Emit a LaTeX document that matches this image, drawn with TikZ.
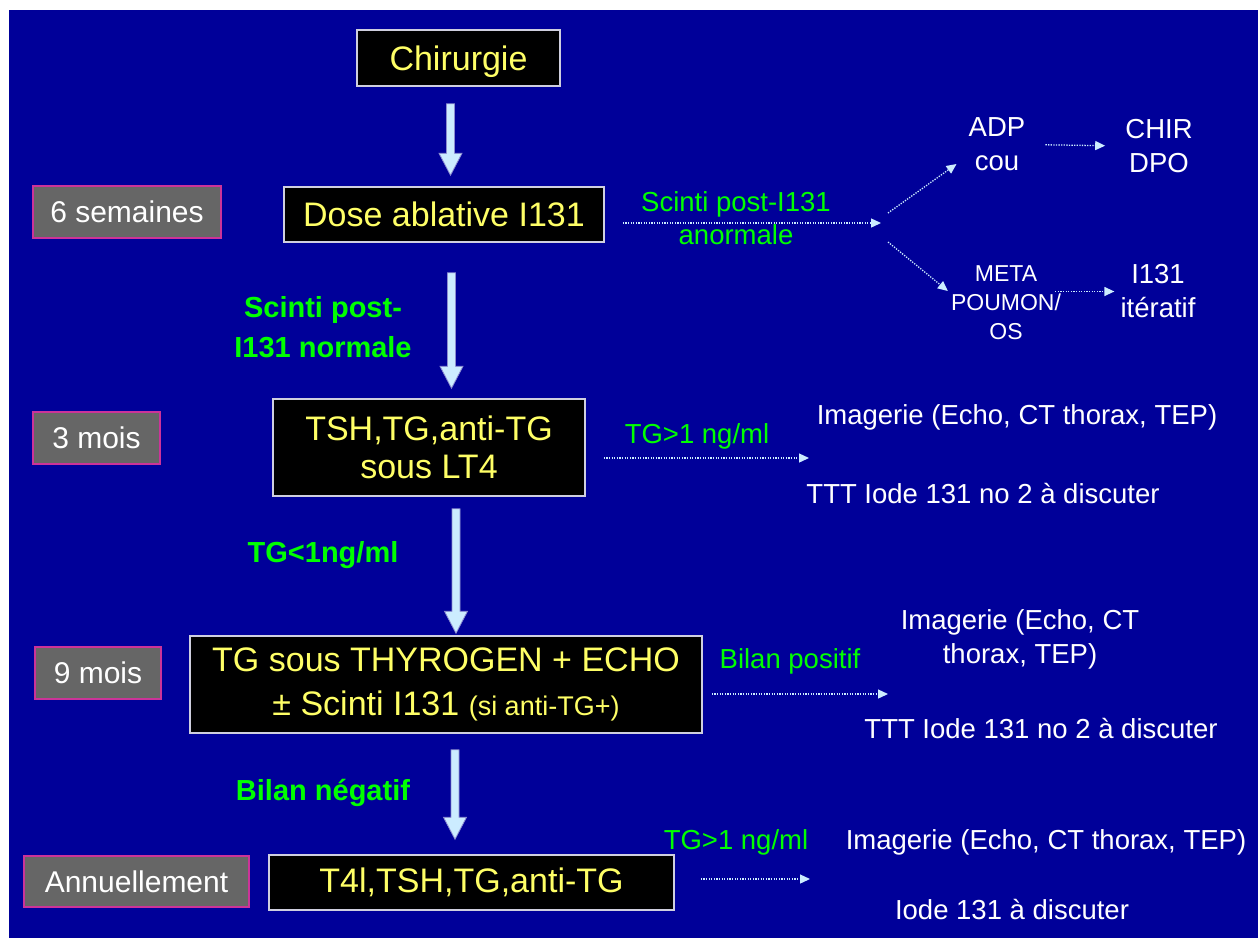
\documentclass[tikz,border=0pt]{standalone}
\usepackage{fontspec}
\setmainfont{Liberation Sans}
\usetikzlibrary{arrows.meta,calc}
\definecolor{bgblue}{HTML}{000099}
\definecolor{boxline}{HTML}{CFCFDF}
\definecolor{txtyellow}{HTML}{FFFF66}
\definecolor{timegray}{HTML}{666666}
\definecolor{timeline}{HTML}{CC3399}
\definecolor{labgreen}{HTML}{00FF00}
\definecolor{arrowfill}{HTML}{CCECFF}
\definecolor{arrowline}{HTML}{8C8CD0}
\tikzset{
  mainbox/.style={draw=boxline, line width=1.5pt, fill=black, text=txtyellow,
    font=\fontsize{34}{38}\selectfont, align=center, inner sep=0pt},
  timebox/.style={draw=timeline, line width=1.5pt, fill=timegray, text=white,
    font=\fontsize{30}{34}\selectfont, inner sep=0pt},
  greenbold/.style={text=labgreen, font=\bfseries\fontsize{29}{40}\selectfont, align=center, inner sep=0pt},
  greenlab/.style={text=labgreen, font=\fontsize{27.5}{33}\selectfont, align=center, inner sep=0pt},
  whitetxt/.style={text=white, font=\fontsize{27.5}{34}\selectfont, align=center, inner sep=0pt},
  smalltxt/.style={text=white, font=\fontsize{23}{29}\selectfont, align=center, inner sep=0pt},
  dotarrow/.style={draw=arrowfill, line width=1.3pt, dash pattern=on 1.3pt off 1.3pt,
    -{Triangle[length=10pt,width=9pt]}},
  bigarrow/.style 2 args={fill=arrowfill, draw=arrowline, line width=0.8pt,
    to path={let \p1=(\tikztostart), \p2=(\tikztotarget) in
      (\x1-4pt,\y1-#1) -- (\x1+4pt,\y1-#1) -- (\x1+4pt,\y2+#2+22pt)
      -- (\x1+11.5pt,\y2+#2+22pt) -- (\x1,\y2+#2) -- (\x1-11.5pt,\y2+#2+22pt)
      -- (\x1-4pt,\y2+#2+22pt) -- cycle}},
}
\begin{document}
\begin{tikzpicture}[x=1pt,y=-1pt]
\useasboundingbox (0,0) rectangle (1258,938);
\fill[white] (0,0) rectangle (1258,938);
\fill[bgblue] (9,10) rectangle (1258,938);

% main boxes
\node[mainbox, minimum width=203pt, minimum height=56pt, text height=25pt, text depth=0pt] (chir) at (458.5,58) {Chirurgie};
\node[mainbox, minimum width=320pt, minimum height=55pt] (dose) at (444,214.5) {Dose ablative I131};
\node[mainbox, minimum width=312pt, minimum height=97pt] (tsh) at (429,447.5) {TSH,TG,anti-TG\\sous LT4};
\node[mainbox, minimum width=512pt, minimum height=97pt, font=\fontsize{34}{44}\selectfont] (tgs) at (446,684.5)
  {TG sous THYROGEN + ECHO\\± Scinti I131 {\fontsize{27}{30}\selectfont(si anti-TG+)}};
\node[mainbox, minimum width=405pt, minimum height=55pt] (t4l) at (471.5,882.5) {T4l,TSH,TG,anti-TG};

% time labels
\node[timebox, minimum width=188pt, minimum height=52pt] (l6) at (127,212) {6 semaines};
\node[timebox, minimum width=127pt, minimum height=52pt] (l3) at (96.5,438) {3 mois};
\node[timebox, minimum width=126pt, minimum height=52pt] (l9) at (98,673) {9 mois};
\node[timebox, minimum width=225pt, minimum height=51pt] (lan) at (136.5,881.5) {Annuellement};

% big arrows
\coordinate (ax1) at (450.5,0);
\coordinate (ax2) at (451.5,0);
\coordinate (ax3) at (456,0);
\coordinate (ax4) at (455,0);
\draw[bigarrow={17pt}{11pt}] (ax1 |- chir.south) to (ax1 |- dose.north);
\draw[bigarrow={30pt}{10pt}] (ax2 |- dose.south) to (ax2 |- tsh.north);
\draw[bigarrow={12pt}{2pt}] (ax3 |- tsh.south) to (ax3 |- tgs.north);
\draw[bigarrow={16pt}{15pt}] (ax4 |- tgs.south) to (ax4 |- t4l.north);

% green bold labels
\node[greenbold] (gnorm) at (323,327) {Scinti post-\\I131 normale};
\node[greenbold, anchor=base] (gtg) at (323,562) {TG<1ng/ml};
\node[greenbold, anchor=base] (gneg) at (323,800) {Bilan négatif};

% abnormal scintigraphy branch
\node[greenlab] (ganorm) at (736,218.5) {Scinti post-I131\\anormale};
\coordinate (fork) at (881,223);
\coordinate (fu) at (888,213);
\coordinate (fd) at (888,242);
\node[whitetxt] (adp) at (997,144.5) {ADP\\cou};
\node[whitetxt] (chirdpo) at (1159,146) {CHIR\\DPO};
\node[smalltxt] (meta) at (1006,303) {META\\POUMON/\\OS};
\node[whitetxt] (iter) at (1158,291.5) {I131\\itératif};
\draw[dotarrow, shorten <=18pt] (dose.east |- fork) -- (fork);
\draw[dotarrow] (fu) -- ([xshift=-12pt,yshift=-19.5pt]adp.west);
\draw[dotarrow] (fd) -- ([xshift=-3pt,yshift=12pt]meta.west);
\draw[dotarrow, shorten <=20pt, shorten >=20pt] (adp.east) -- (chirdpo.west);
\draw[dotarrow, shorten <=-6pt, shorten >=6pt] (meta.east |- iter.west) -- (iter.west);

% 3 months branch
\node[greenlab, anchor=base] (g1) at (697,443) {TG>1 ng/ml};
\node[whitetxt, anchor=base] (img1) at (1017,424) {Imagerie (Echo, CT thorax, TEP)};
\node[whitetxt, anchor=base] (ttt1) at (983,503) {TTT Iode 131 no 2 à discuter};
\coordinate (e1) at (809,458);
\draw[dotarrow, shorten <=18pt] (tsh.east |- e1) -- (e1);

% 9 months branch
\node[greenlab, anchor=base] (gpos) at (790,668) {Bilan positif};
\node[whitetxt] (img2) at (1020,639) {Imagerie (Echo, CT\\thorax, TEP)};
\node[whitetxt, anchor=base] (ttt2) at (1041,738) {TTT Iode 131 no 2 à discuter};
\coordinate (e2) at (888,694);
\draw[dotarrow, shorten <=9pt] (tgs.east |- e2) -- (e2);

% yearly branch
\node[greenlab, anchor=base] (g3) at (736,849) {TG>1 ng/ml};
\node[whitetxt, anchor=base] (img3) at (1046,849) {Imagerie (Echo, CT thorax, TEP)};
\node[whitetxt, anchor=base] (iode3) at (1012,919) {Iode 131 à discuter};
\coordinate (e3) at (810,879);
\draw[dotarrow, shorten <=26pt] (t4l.east |- e3) -- (e3);
\end{tikzpicture}
\end{document}
